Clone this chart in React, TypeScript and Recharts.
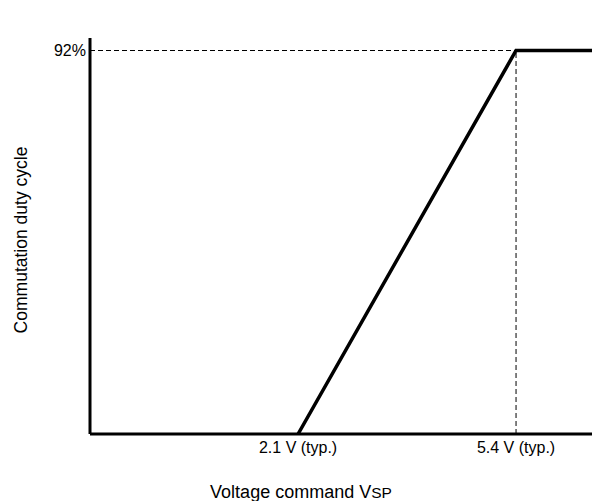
import React from "react";
import { LineChart, Line, XAxis, YAxis, ReferenceLine, Label } from "recharts";

// voltage command (V) vs commutation duty (%)
const xMin = -1.05;
const xMax = 6.55;
const yMax = 95;
const startV = 2.1;
const limitV = 5.4;
const limitDuty = 92;

const curve = [
  { v: startV, duty: 0 },
  { v: limitV, duty: limitDuty },
  { v: xMax, duty: limitDuty },
];

const xTicks = [startV, limitV];
const yTicks = [limitDuty];

const font = "Arial, 'Liberation Sans', sans-serif";

export default function App() {
  return (
    <div style={{ position: "absolute", left: 0, top: 0, background: "#fff" }}>
      <LineChart
        width={592}
        height={501}
        data={curve}
        margin={{ top: 38, right: 0, bottom: 0, left: 0 }}
      >
        <XAxis
          type="number"
          dataKey="v"
          domain={[xMin, xMax]}
          ticks={xTicks}
          tickFormatter={(t: number) => `${t.toFixed(1)} V (typ.)`}
          tickLine={false}
          axisLine={{ stroke: "#000", strokeWidth: 3 }}
          tick={{ fill: "#000", fontSize: 16, fontFamily: font }}
          height={67}
          allowDataOverflow
        >
          <Label
            content={() => (
              <text
                x={301}
                y={498}
                textAnchor="middle"
                fontSize={18}
                fontFamily={font}
                fill="#000"
              >
                Voltage command V
                <tspan fontSize={15.5}>SP</tspan>
              </text>
            )}
          />
        </XAxis>
        <YAxis
          type="number"
          domain={[0, yMax]}
          ticks={yTicks}
          tickFormatter={(t: number) => `${t}%`}
          tickLine={false}
          tickSize={2}
          axisLine={{ stroke: "#000", strokeWidth: 3 }}
          tick={{ fill: "#000", fontSize: 16, fontFamily: font }}
          width={90}
          allowDataOverflow
        >
          <Label
            content={() => (
              <text
                x={27}
                y={240}
                transform="rotate(-90 27 240)"
                textAnchor="middle"
                fontSize={17.5}
                fontFamily={font}
                fill="#000"
              >
                Commutation duty cycle
              </text>
            )}
          />
        </YAxis>
        <ReferenceLine
          segment={[
            { x: xMin, y: limitDuty },
            { x: limitV, y: limitDuty },
          ]}
          stroke="#000"
          strokeDasharray="5 3"
        />
        <ReferenceLine
          segment={[
            { x: limitV, y: 0 },
            { x: limitV, y: limitDuty },
          ]}
          stroke="#000"
          strokeDasharray="5 3"
        />
        <Line
          type="linear"
          dataKey="duty"
          stroke="#000"
          strokeWidth={3.5}
          dot={false}
          isAnimationActive={false}
        />
      </LineChart>
    </div>
  );
}
